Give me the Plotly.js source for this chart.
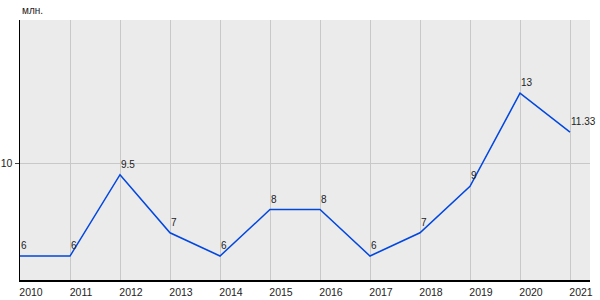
<!DOCTYPE html>
<html><head><meta charset="utf-8">
<script src="https://cdn.plot.ly/plotly-3.0.1.min.js"></script>
<style>html,body{margin:0;padding:0;background:#fff}#c{width:600px;height:300px}</style>
</head><body><div id="c"></div>
<script>
const years = [2010,2011,2012,2013,2014,2015,2016,2017,2018,2019,2020,2021];
const values = [6,6,9.5,7,6,8,8,6,7,9,13,11.33];
const labels = ['6','6','9.5','7','6','8','8','6','7','9','13','11.33'];
const yTicks = [10];
const yUnit = 'млн.';

const pointLabels = years.map((yr, i) => ({
  x: yr, y: values[i], xref: 'x', yref: 'y', text: labels[i],
  xanchor: 'left', yanchor: 'bottom', yshift: 3, xshift: -1, showarrow: false,
  font: {size: 10, color: '#222'}
}));

Plotly.newPlot('c', [{
  x: years, y: values, type: 'scatter', mode: 'lines',
  line: {color: '#0047e0', width: 1.5},
  cliponaxis: false, hoverinfo: 'none'
}], {
  width: 600, height: 300,
  margin: {l: 20, r: 10, t: 20, b: 20, pad: 0},
  paper_bgcolor: '#fff', plot_bgcolor: '#ebebeb',
  showlegend: false,
  font: {family: 'Liberation Sans, Arial', size: 11, color: '#222'},
  xaxis: {
    range: [2010, 2021.4], tickvals: years, ticktext: years.map(String),
    showgrid: true, gridcolor: '#c8c8c8', gridwidth: 1,
    showline: true, linecolor: '#000', linewidth: 1.5,
    ticks: '', ticklabelshift: 11, ticklabelstandoff: 2,
    tickfont: {size: 10.5, color: '#222'}, zeroline: false, fixedrange: true
  },
  yaxis: {
    range: [4.97, 16.15], tickvals: yTicks, ticktext: yTicks.map(String),
    showgrid: true, gridcolor: '#c8c8c8', gridwidth: 1,
    showline: true, linecolor: '#000', linewidth: 1.5,
    ticks: 'outside', ticklen: 4, tickcolor: '#444',
    tickfont: {size: 10.5, color: '#222'}, zeroline: false, fixedrange: true
  },
  annotations: [{
    text: yUnit, xref: 'paper', yref: 'paper', x: 0, y: 1,
    xanchor: 'left', yanchor: 'bottom', yshift: 2, showarrow: false,
    font: {size: 10, color: '#222'}
  }].concat(pointLabels)
}, {displayModeBar: false, staticPlot: true});
</script></body></html>
